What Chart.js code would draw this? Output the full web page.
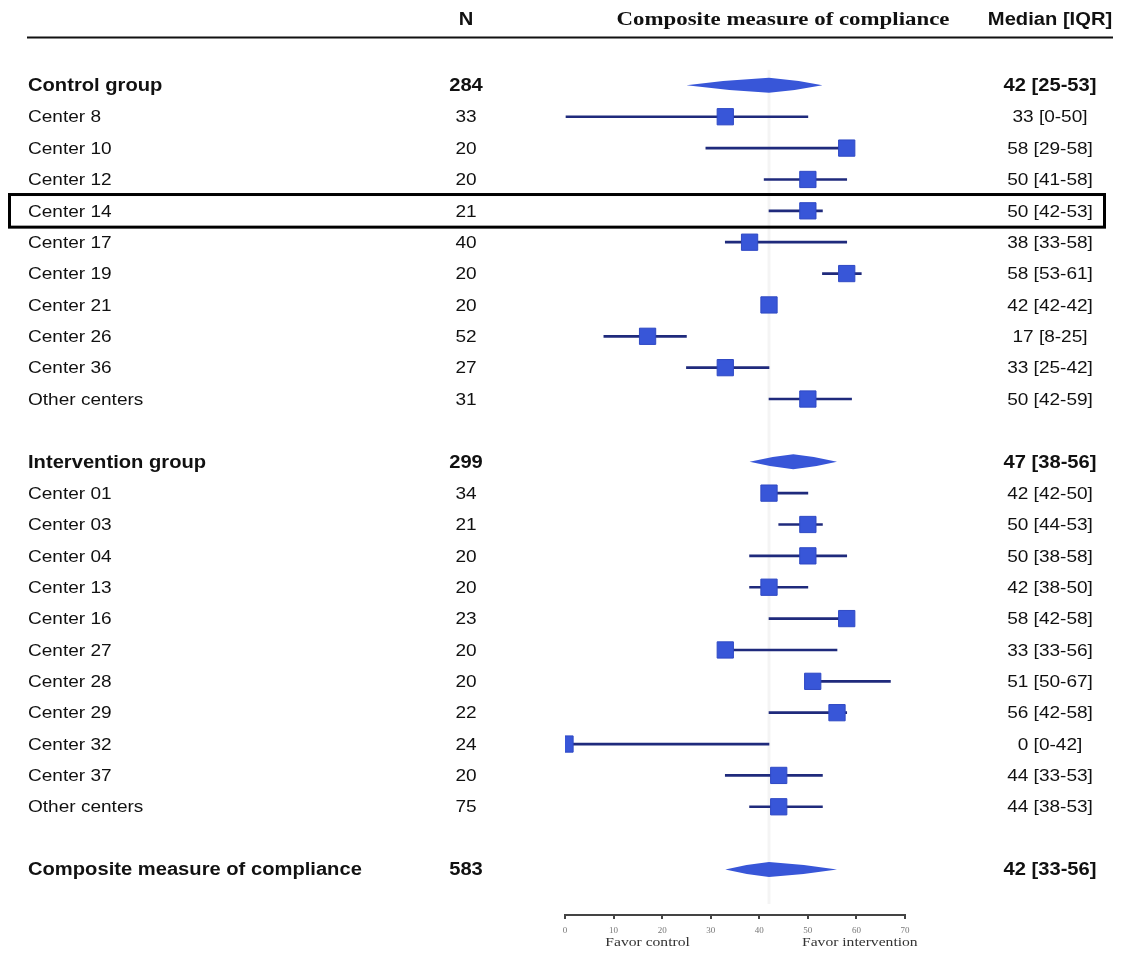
<!DOCTYPE html>
<html>
<head>
<meta charset="utf-8">
<script src="https://cdn.jsdelivr.net/npm/chart.js@4"></script>
<style>
  html, body { margin: 0; padding: 0; background: #fff; }
  #wrap { width: 1121px; height: 955px; }
</style>
</head>
<body>
<div id="wrap"><canvas id="forest" width="1121" height="955"></canvas></div>
<script>
// Rows of the forest plot, top to bottom ('' rows are spacers)
const rowLabels = [
  'Control group', 'Center 8', 'Center 10', 'Center 12', 'Center 14', 'Center 17',
  'Center 19', 'Center 21', 'Center 26', 'Center 36', 'Other centers', '',
  'Intervention group', 'Center 01', 'Center 03', 'Center 04', 'Center 13', 'Center 16',
  'Center 27', 'Center 28', 'Center 29', 'Center 32', 'Center 37', 'Other centers', '',
  'Composite measure of compliance'
];
const rowKinds = [
  'summary', 'center', 'center', 'center', 'center', 'center',
  'center', 'center', 'center', 'center', 'center', 'blank',
  'summary', 'center', 'center', 'center', 'center', 'center',
  'center', 'center', 'center', 'center', 'center', 'center', 'blank',
  'summary'
];
const rowN = [
  284, 33, 20, 20, 21, 40, 20, 20, 52, 27, 31, null,
  299, 34, 21, 20, 20, 23, 20, 20, 22, 24, 20, 75, null,
  583
];
const rowMedian = [
  42, 33, 58, 50, 50, 38, 58, 42, 17, 33, 50, null,
  47, 42, 50, 50, 42, 58, 33, 51, 56, 0, 44, 44, null,
  42
];
const rowLow = [
  25, 0, 29, 41, 42, 33, 53, 42, 8, 25, 42, null,
  38, 42, 44, 38, 38, 42, 33, 50, 42, 0, 33, 38, null,
  33
];
const rowHigh = [
  53, 50, 58, 58, 53, 58, 61, 42, 25, 42, 59, null,
  56, 50, 53, 58, 50, 58, 56, 67, 58, 42, 53, 53, null,
  56
];
const highlightRow = 4;      // Center 14
const referenceValue = 42;   // overall median line

const SQUARE = '#3856d8';
const WHISKER = '#1f2a7c';

const centerIdx = rowKinds.map((k, i) => k === 'center' ? i : -1).filter(i => i >= 0);
const summaryIdx = rowKinds.map((k, i) => k === 'summary' ? i : -1).filter(i => i >= 0);

const whiskerData = centerIdx.map(i => ({ x: [rowLow[i], rowHigh[i]], y: i }));
const pointData = centerIdx.map(i => ({ x: rowMedian[i], y: i }));

const SANS = '"Liberation Sans", Arial, sans-serif';
const SERIF = '"Liberation Serif", "Times New Roman", serif';

function drawText(ctx, str, x, y, font, align, sx, color) {
  ctx.save();
  ctx.font = font;
  ctx.fillStyle = color || '#111';
  ctx.textBaseline = 'middle';
  ctx.textAlign = 'left';
  const w = ctx.measureText(str).width * sx;
  const x0 = align === 'left' ? x : (align === 'center' ? x - w / 2 : x - w);
  ctx.translate(x0, y);
  ctx.scale(sx, 1);
  ctx.fillText(str, 0, 0);
  ctx.restore();
}

const forestDecor = {
  id: 'forestDecor',
  beforeDatasetsDraw(chart) {
    const { ctx, scales: { x, y } } = chart;
    // faint reference line at the overall median
    const rx = x.getPixelForValue(referenceValue);
    ctx.save();
    ctx.strokeStyle = 'rgba(0,0,0,0.045)';
    ctx.lineWidth = 3;
    ctx.beginPath();
    ctx.moveTo(rx, y.getPixelForValue(-0.5));
    ctx.lineTo(rx, y.getPixelForValue(26.1));
    ctx.stroke();
    ctx.restore();
  },
  afterDatasetsDraw(chart) {
    const { ctx, scales: { x, y } } = chart;
    const SX = 1.12;

    // summary diamonds
    ctx.save();
    ctx.fillStyle = SQUARE;
    summaryIdx.forEach(i => {
      const cy = y.getPixelForValue(i);
      const xl = x.getPixelForValue(rowLow[i]);
      const xm = x.getPixelForValue(rowMedian[i]);
      const xh = x.getPixelForValue(rowHigh[i]);
      const h = 7.5;
      ctx.beginPath();
      ctx.moveTo(xl, cy);
      ctx.quadraticCurveTo((xl + xm) / 2, cy - h * 0.72, xm, cy - h);
      ctx.quadraticCurveTo((xm + xh) / 2, cy - h * 0.72, xh, cy);
      ctx.quadraticCurveTo((xm + xh) / 2, cy + h * 0.72, xm, cy + h);
      ctx.quadraticCurveTo((xl + xm) / 2, cy + h * 0.72, xl, cy);
      ctx.closePath();
      ctx.fill();
    });
    ctx.restore();

    // header
    const hy = 20;
    drawText(ctx, 'N', 466, hy, 'bold 18px ' + SANS, 'center', SX);
    drawText(ctx, 'Composite measure of compliance', 783, hy, 'bold 18px ' + SERIF, 'center', 1.27);
    drawText(ctx, 'Median [IQR]', 1050, hy, 'bold 18px ' + SANS, 'center', SX);
    ctx.save();
    ctx.strokeStyle = '#111';
    ctx.lineWidth = 2;
    ctx.beginPath();
    ctx.moveTo(27, 37.5);
    ctx.lineTo(1113, 37.5);
    ctx.stroke();
    ctx.restore();

    // text columns
    rowLabels.forEach((lab, i) => {
      if (rowKinds[i] === 'blank') return;
      const cy = y.getPixelForValue(i) + 1;
      const bold = rowKinds[i] === 'summary';
      const font = bold ? 'bold 18px ' + SANS : '17px ' + SANS;
      drawText(ctx, lab, 28, cy, font, 'left', SX);
      drawText(ctx, String(rowN[i]), 466, cy, font, 'center', SX);
      const txt = rowMedian[i] + ' [' + rowLow[i] + '-' + rowHigh[i] + ']';
      drawText(ctx, txt, 1050, cy, font, 'center', SX);
    });

    // highlighted row frame
    const top = y.getPixelForValue(highlightRow - 0.52);
    const bot = y.getPixelForValue(highlightRow + 0.52);
    ctx.save();
    ctx.strokeStyle = '#000';
    ctx.lineWidth = 3;
    ctx.strokeRect(9.5, top, 1095, bot - top);
    ctx.restore();

    // axis captions under the tick labels
    const fy = x.top + 28;
    drawText(ctx, 'Favor control', x.getPixelForValue(17), fy, '12px ' + SERIF, 'center', 1.3, '#333');
    drawText(ctx, 'Favor intervention', x.getPixelForValue(60.7), fy, '12px ' + SERIF, 'center', 1.3, '#333');
  }
};

new Chart(document.getElementById('forest'), {
  type: 'scatter',
  data: {
    datasets: [
      {
        type: 'bar',
        indexAxis: 'y',
        data: whiskerData,
        backgroundColor: WHISKER,
        borderWidth: 0,
        barThickness: 2,
        grouped: false,
        order: 2
      },
      {
        type: 'scatter',
        data: pointData,
        pointStyle: 'rect',
        pointRadius: 11.5,
        backgroundColor: SQUARE,
        borderColor: '#2f49c4',
        borderWidth: 1,
        order: 1
      }
    ]
  },
  options: {
    responsive: false,
    animation: false,
    events: [],
    layout: { padding: { left: 565, right: 216, top: 54, bottom: 0 } },
    plugins: { legend: { display: false }, tooltip: { enabled: false } },
    scales: {
      x: {
        type: 'linear',
        min: 0,
        max: 70,
        offset: false,
        position: 'bottom',
        afterFit(scale) { scale.height = 40; },
        border: { display: true, color: '#444', width: 2 },
        grid: { display: true, drawOnChartArea: false, drawTicks: true, tickLength: 4, color: '#444', lineWidth: 2, offset: false },
        ticks: { stepSize: 10, padding: 6, color: '#777', font: { family: SERIF, size: 9 } }
      },
      y: {
        type: 'linear',
        display: false,
        reverse: true,
        offset: false,
        min: -1,
        max: 26.45
      }
    }
  },
  plugins: [forestDecor]
});
</script>
</body>
</html>
